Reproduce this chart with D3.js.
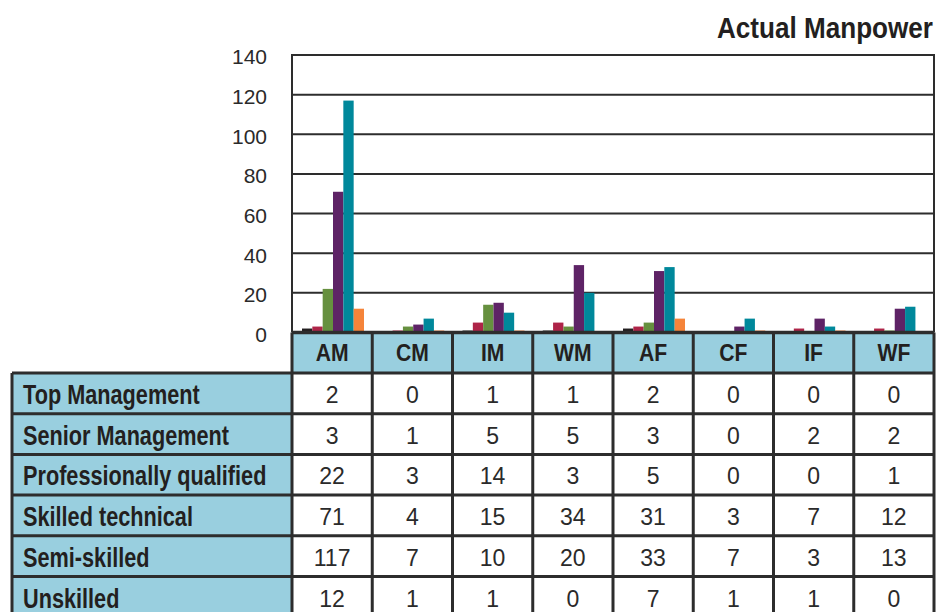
<!DOCTYPE html>
<html>
<head>
<meta charset="utf-8">
<script src="https://cdn.jsdelivr.net/npm/d3@7"></script>
<style>
  body { margin: 0; background: #fff; }
  svg { display: block; }
  .num { font-family: "Liberation Sans", Arial, sans-serif; fill: #2a2a2a; }
  .cond { font-family: "Liberation Sans", Arial, sans-serif; font-weight: bold; fill: #231f20; }
</style>
</head>
<body>
<script>
// Categories (columns) and series (rows)
const categories = ['AM', 'CM', 'IM', 'WM', 'AF', 'CF', 'IF', 'WF'];
const seriesNames = ['Top Management', 'Senior Management', 'Professionally qualified', 'Skilled technical', 'Semi-skilled', 'Unskilled'];

// Values per series, in category order
const topManagement = [2, 0, 1, 1, 2, 0, 0, 0];
const seniorManagement = [3, 1, 5, 5, 3, 0, 2, 2];
const professionallyQualified = [22, 3, 14, 3, 5, 0, 0, 1];
const skilledTechnical = [71, 4, 15, 34, 31, 3, 7, 12];
const semiSkilled = [117, 7, 10, 20, 33, 7, 3, 13];
const unskilled = [12, 1, 1, 0, 7, 1, 1, 0];

const yTicks = [0, 20, 40, 60, 80, 100, 120, 140];
const colors = ['#231f20', '#ae2448', '#66903f', '#5e2366', '#00889b', '#f5843a'];

const seriesValues = [topManagement, seniorManagement, professionallyQualified, skilledTechnical, semiSkilled, unskilled];

const W = 936, H = 612;
const plot = { left: 292, right: 934, top: 55, bottom: 332.5 };
const tableLeft = 12;
const headerH = 40.5;
const rowH = 40.7;

const svg = d3.select('body').append('svg')
  .attr('width', W)
  .attr('height', H);

// Scales
const x = d3.scaleBand().domain(categories).range([plot.left, plot.right]);
const xInner = d3.scaleBand().domain(d3.range(seriesNames.length)).range([10, 72]);
const y = d3.scaleLinear().domain([0, 140]).range([plot.bottom, plot.top]);
const rowY = d3.scaleBand().domain(seriesNames)
  .range([plot.bottom + headerH, plot.bottom + headerH + rowH * seriesNames.length]);

// condensed bold text: squeeze horizontally since no narrow face is installed
function condText(sel, tx, ty, sx) {
  return sel.attr('class', 'cond')
    .attr('transform', (d, i) => `translate(${tx(d, i)},${ty(d, i)}) scale(${sx},1)`);
}

// Title
condText(svg.append('text').datum('Actual Manpower'), () => 933, () => 38, 0.9)
  .attr('text-anchor', 'end')
  .style('font-size', '29px')
  .text(d => d);

// Gridlines
svg.append('g')
  .selectAll('line')
  .data(yTicks.filter(t => t > 0 && t < 140))
  .join('line')
  .attr('x1', plot.left).attr('x2', plot.right)
  .attr('y1', d => y(d)).attr('y2', d => y(d))
  .attr('stroke', '#2d2d2d')
  .attr('stroke-width', 2);

// Y axis labels
const yAxis = d3.axisLeft(y).tickValues(yTicks).tickSize(0).tickPadding(25);
const yG = svg.append('g')
  .attr('transform', `translate(${plot.left},0)`)
  .call(yAxis);
yG.select('.domain').remove();
yG.selectAll('text')
  .attr('class', 'num')
  .attr('dy', '0.42em')
  .style('font-size', '21px')
  .attr('fill', '#2a2a2a');

// Bars
const groups = svg.append('g')
  .selectAll('g')
  .data(categories)
  .join('g')
  .attr('transform', d => `translate(${x(d)},0)`);

groups.selectAll('rect')
  .data((c, ci) => seriesValues.map((vals, si) => ({ si, v: vals[ci] })))
  .join('rect')
  .attr('x', d => xInner(d.si))
  .attr('width', xInner.bandwidth())
  .attr('y', d => y(d.v))
  .attr('height', d => y(0) - y(d.v))
  .attr('fill', d => colors[d.si]);

// Plot frame
svg.append('path')
  .attr('d', `M${plot.left},${plot.bottom}V${plot.top}H${plot.right}V${plot.bottom}`)
  .attr('fill', 'none')
  .attr('stroke', '#2d2d2d')
  .attr('stroke-width', 2);

// Table: header row
const tableBottom = rowY.range()[1];
svg.append('rect')
  .attr('x', plot.left).attr('y', plot.bottom)
  .attr('width', plot.right - plot.left).attr('height', headerH)
  .attr('fill', '#99cfdf');

// Label column
svg.append('rect')
  .attr('x', tableLeft).attr('y', rowY.range()[0])
  .attr('width', plot.left - tableLeft).attr('height', tableBottom - rowY.range()[0])
  .attr('fill', '#99cfdf');

condText(
  svg.append('g').selectAll('text').data(categories).join('text'),
  d => x(d) + x.bandwidth() / 2, () => plot.bottom + headerH / 2, 0.92)
  .attr('dy', '0.36em')
  .attr('text-anchor', 'middle')
  .style('font-size', '23px')
  .text(d => d);

condText(
  svg.append('g').selectAll('text').data(seriesNames).join('text'),
  () => tableLeft + 11, d => rowY(d) + rowY.bandwidth() / 2, 0.775)
  .attr('dy', '0.38em')
  .style('font-size', '28px')
  .text(d => d);

// Values in cells
const cellRows = svg.append('g')
  .selectAll('g')
  .data(seriesNames)
  .join('g')
  .attr('transform', d => `translate(0,${rowY(d) + rowY.bandwidth() / 2})`);

cellRows.selectAll('text')
  .data((s, si) => categories.map((c, ci) => ({ c, v: seriesValues[si][ci] })))
  .join('text')
  .attr('class', 'num')
  .attr('x', d => x(d.c) + x.bandwidth() / 2)
  .attr('dy', '0.42em')
  .attr('text-anchor', 'middle')
  .style('font-size', '23px')
  .text(d => d.v);

// Table grid lines
const gridColor = '#2d2d2d';
const hLines = [plot.bottom, ...seriesNames.map(s => rowY(s)), tableBottom];
svg.append('g')
  .selectAll('line')
  .data(hLines)
  .join('line')
  .attr('x1', (d, i) => i === 0 ? plot.left : tableLeft)
  .attr('x2', plot.right)
  .attr('y1', d => d).attr('y2', d => d)
  .attr('stroke', gridColor)
  .attr('stroke-width', (d, i) => i === 0 ? 3.5 : 3);

const vLines = [...categories.map(c => x(c)), plot.right];
svg.append('g')
  .selectAll('line')
  .data(vLines)
  .join('line')
  .attr('x1', d => d).attr('x2', d => d)
  .attr('y1', plot.bottom).attr('y2', tableBottom)
  .attr('stroke', gridColor)
  .attr('stroke-width', 3);

svg.append('line')
  .attr('x1', tableLeft).attr('x2', tableLeft)
  .attr('y1', rowY.range()[0]).attr('y2', tableBottom)
  .attr('stroke', gridColor)
  .attr('stroke-width', 3);
</script>
</body>
</html>
